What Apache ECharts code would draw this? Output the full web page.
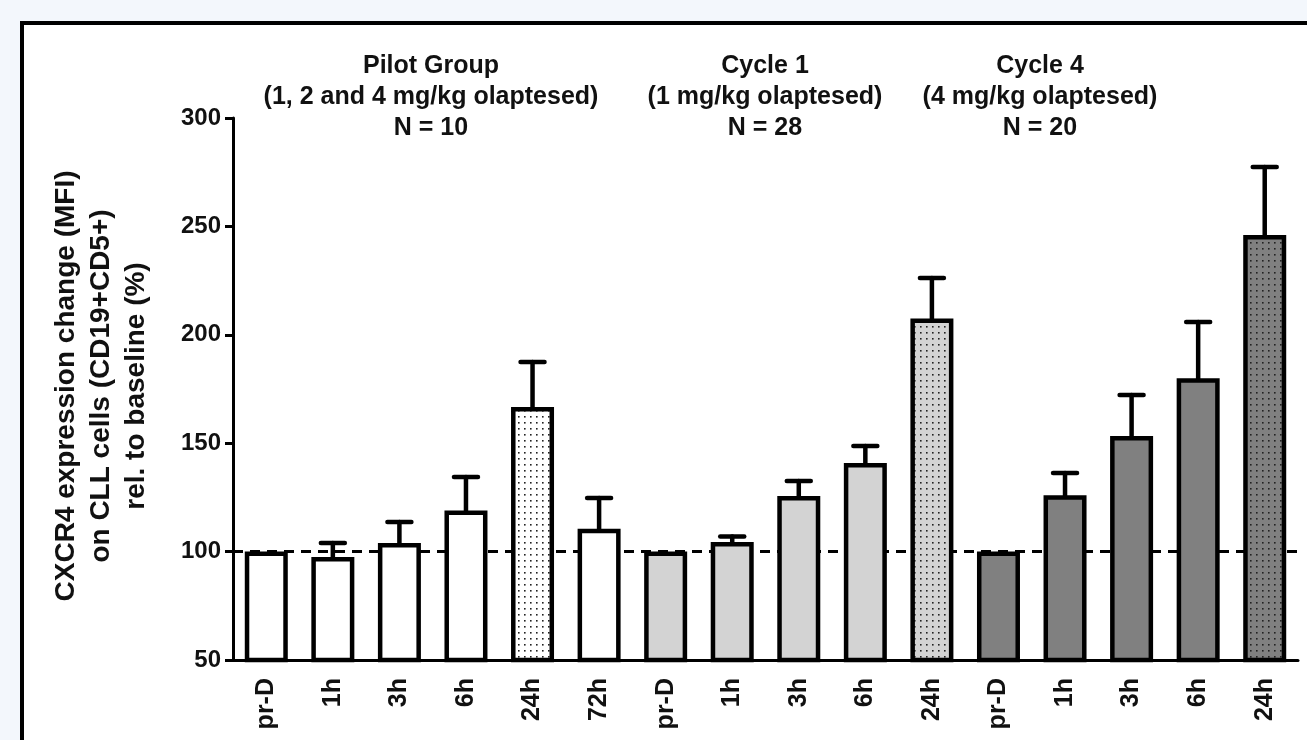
<!DOCTYPE html>
<html>
<head>
<meta charset="utf-8">
<script src="https://cdn.jsdelivr.net/npm/echarts@6/dist/echarts.min.js"></script>
<style>
  html, body { margin: 0; padding: 0; background: #f3f7fc; }
  #chart { width: 1307px; height: 740px; }
</style>
</head>
<body>
<div id="chart"></div>
<script>
// ---- data ----
const categories = ['pr-D','1h','3h','6h','24h','72h','pr-D','1h','3h','6h','24h','pr-D','1h','3h','6h','24h'];
const groupOf    = [0,0,0,0,0,0,1,1,1,1,1,2,2,2,2,2];
const means      = [100, 97.5, 104, 119, 166.7, 110.5, 100, 104.4, 125.6, 140.9, 207.5, 100, 126, 153.3, 180, 246];
const sems       = [0, 6.5, 9.7, 15.4, 20.8, 14.2, 0, 2.6, 7, 7.8, 18.7, 0, 10.3, 18.9, 25.9, 31.4];
const groupTitles = [
  'Pilot Group\n(1, 2 and 4 mg/kg olaptesed)\nN = 10',
  'Cycle 1\n(1 mg/kg olaptesed)\nN = 28',
  'Cycle 4\n(4 mg/kg olaptesed)\nN = 20'
];
const yTitle = 'CXCR4 expression change (MFI)\non CLL cells (CD19+CD5+)\nrel. to baseline (%)';
const yTicks = { min: 50, max: 300, interval: 50 };
const baseline = 100;

// ---- styles ----
const FONT = '"Liberation Sans", Arial, Helvetica, sans-serif';
const groupColors = ['#ffffff', '#d3d3d3', '#808080'];
const titleCenters = [431, 765, 1040];

function dotPattern(bg) {
  const c = document.createElement('canvas');
  c.width = 6; c.height = 6;
  const ctx = c.getContext('2d');
  ctx.fillStyle = bg; ctx.fillRect(0, 0, 6, 6);
  ctx.fillStyle = '#222';
  ctx.fillRect(2, 2, 1.6, 1.6);
  return { image: c, repeat: 'repeat' };
}

const barData = means.map((v, i) => ({
  value: v,
  itemStyle: {
    color: categories[i] === '24h' ? dotPattern(groupColors[groupOf[i]]) : groupColors[groupOf[i]]
  }
}));
const errData = means.map((v, i) => [i, v, v + sems[i]]);

const chart = echarts.init(document.getElementById('chart'), null, { renderer: 'canvas' });
chart.setOption({
  backgroundColor: '#f3f7fc',
  animation: false,
  graphic: [
    { type: 'rect', left: 20, top: 21, z: -10, shape: { x: 0, y: 0, width: 1400, height: 800 },
      style: { fill: '#ffffff', stroke: '#000', lineWidth: 4 } },
    ...groupTitles.map((t, k) => ({
      type: 'text', x: titleCenters[k], y: 97, z: 10,
      style: { text: t, font: 'bold 25px ' + FONT, fill: '#111', align: 'center', verticalAlign: 'middle',
               textAlign: 'center', textVerticalAlign: 'middle', lineHeight: 31 }
    })),
    { type: 'text', x: 101, y: 386, rotation: Math.PI / 2, z: 10,
      style: { text: yTitle, font: 'bold 28px ' + FONT, fill: '#111', align: 'center', verticalAlign: 'middle',
               textAlign: 'center', textVerticalAlign: 'middle', lineHeight: 35 } }
  ],
  grid: { left: 233, right: 9, top: 118, bottom: 80, containLabel: false },
  xAxis: {
    type: 'category',
    data: categories,
    axisLine: { lineStyle: { color: '#000', width: 3 } },
    axisTick: { alignWithLabel: true, length: 8, lineStyle: { color: '#000', width: 3 } },
    axisLabel: { rotate: 90, interval: 0, margin: 18, color: '#111', fontSize: 25, fontWeight: 'bold', fontFamily: FONT },
    splitLine: { show: false }
  },
  yAxis: {
    type: 'value',
    min: yTicks.min, max: yTicks.max, interval: yTicks.interval,
    axisLine: { show: true, lineStyle: { color: '#000', width: 3 } },
    axisTick: { show: true, length: 8, lineStyle: { color: '#000', width: 3 } },
    axisLabel: { margin: 12, color: '#111', fontSize: 24, fontWeight: 'bold', fontFamily: FONT },
    splitLine: { show: false }
  },
  series: [
    {
      type: 'custom', z: 1, zlevel: 0, silent: true, data: [[0, baseline]],
      encode: { x: 0, y: 1 },
      renderItem: function (params, api) {
        const y = api.coord([0, api.value(1)])[1];
        const cs = params.coordSys;
        return {
          type: 'line',
          shape: { x1: cs.x, y1: y, x2: cs.x + cs.width, y2: y },
          style: { stroke: '#000', lineWidth: 3, lineDash: [10, 7] }
        };
      }
    },
    {
      type: 'bar', data: barData, barWidth: 43, z: 3, zlevel: 1,
      itemStyle: { borderColor: '#000', borderWidth: 4.5 }
    },
    {
      type: 'custom', z: 2, zlevel: 1, data: errData,
      encode: { x: 0, y: [1, 2] },
      renderItem: function (params, api) {
        const i = api.value(0), m = api.value(1), u = api.value(2);
        if (u - m <= 0) return { type: 'group', children: [] };
        const p0 = api.coord([i, m]);
        const p1 = api.coord([i, u]);
        const half = 12;
        const st = { stroke: '#000', lineWidth: 4.5, lineCap: 'round' };
        return {
          type: 'group',
          children: [
            { type: 'line', shape: { x1: p0[0], y1: p0[1], x2: p1[0], y2: p1[1] }, style: st },
            { type: 'line', shape: { x1: p1[0] - half, y1: p1[1], x2: p1[0] + half, y2: p1[1] }, style: st }
          ]
        };
      }
    }
  ]
});
</script>
</body>
</html>
